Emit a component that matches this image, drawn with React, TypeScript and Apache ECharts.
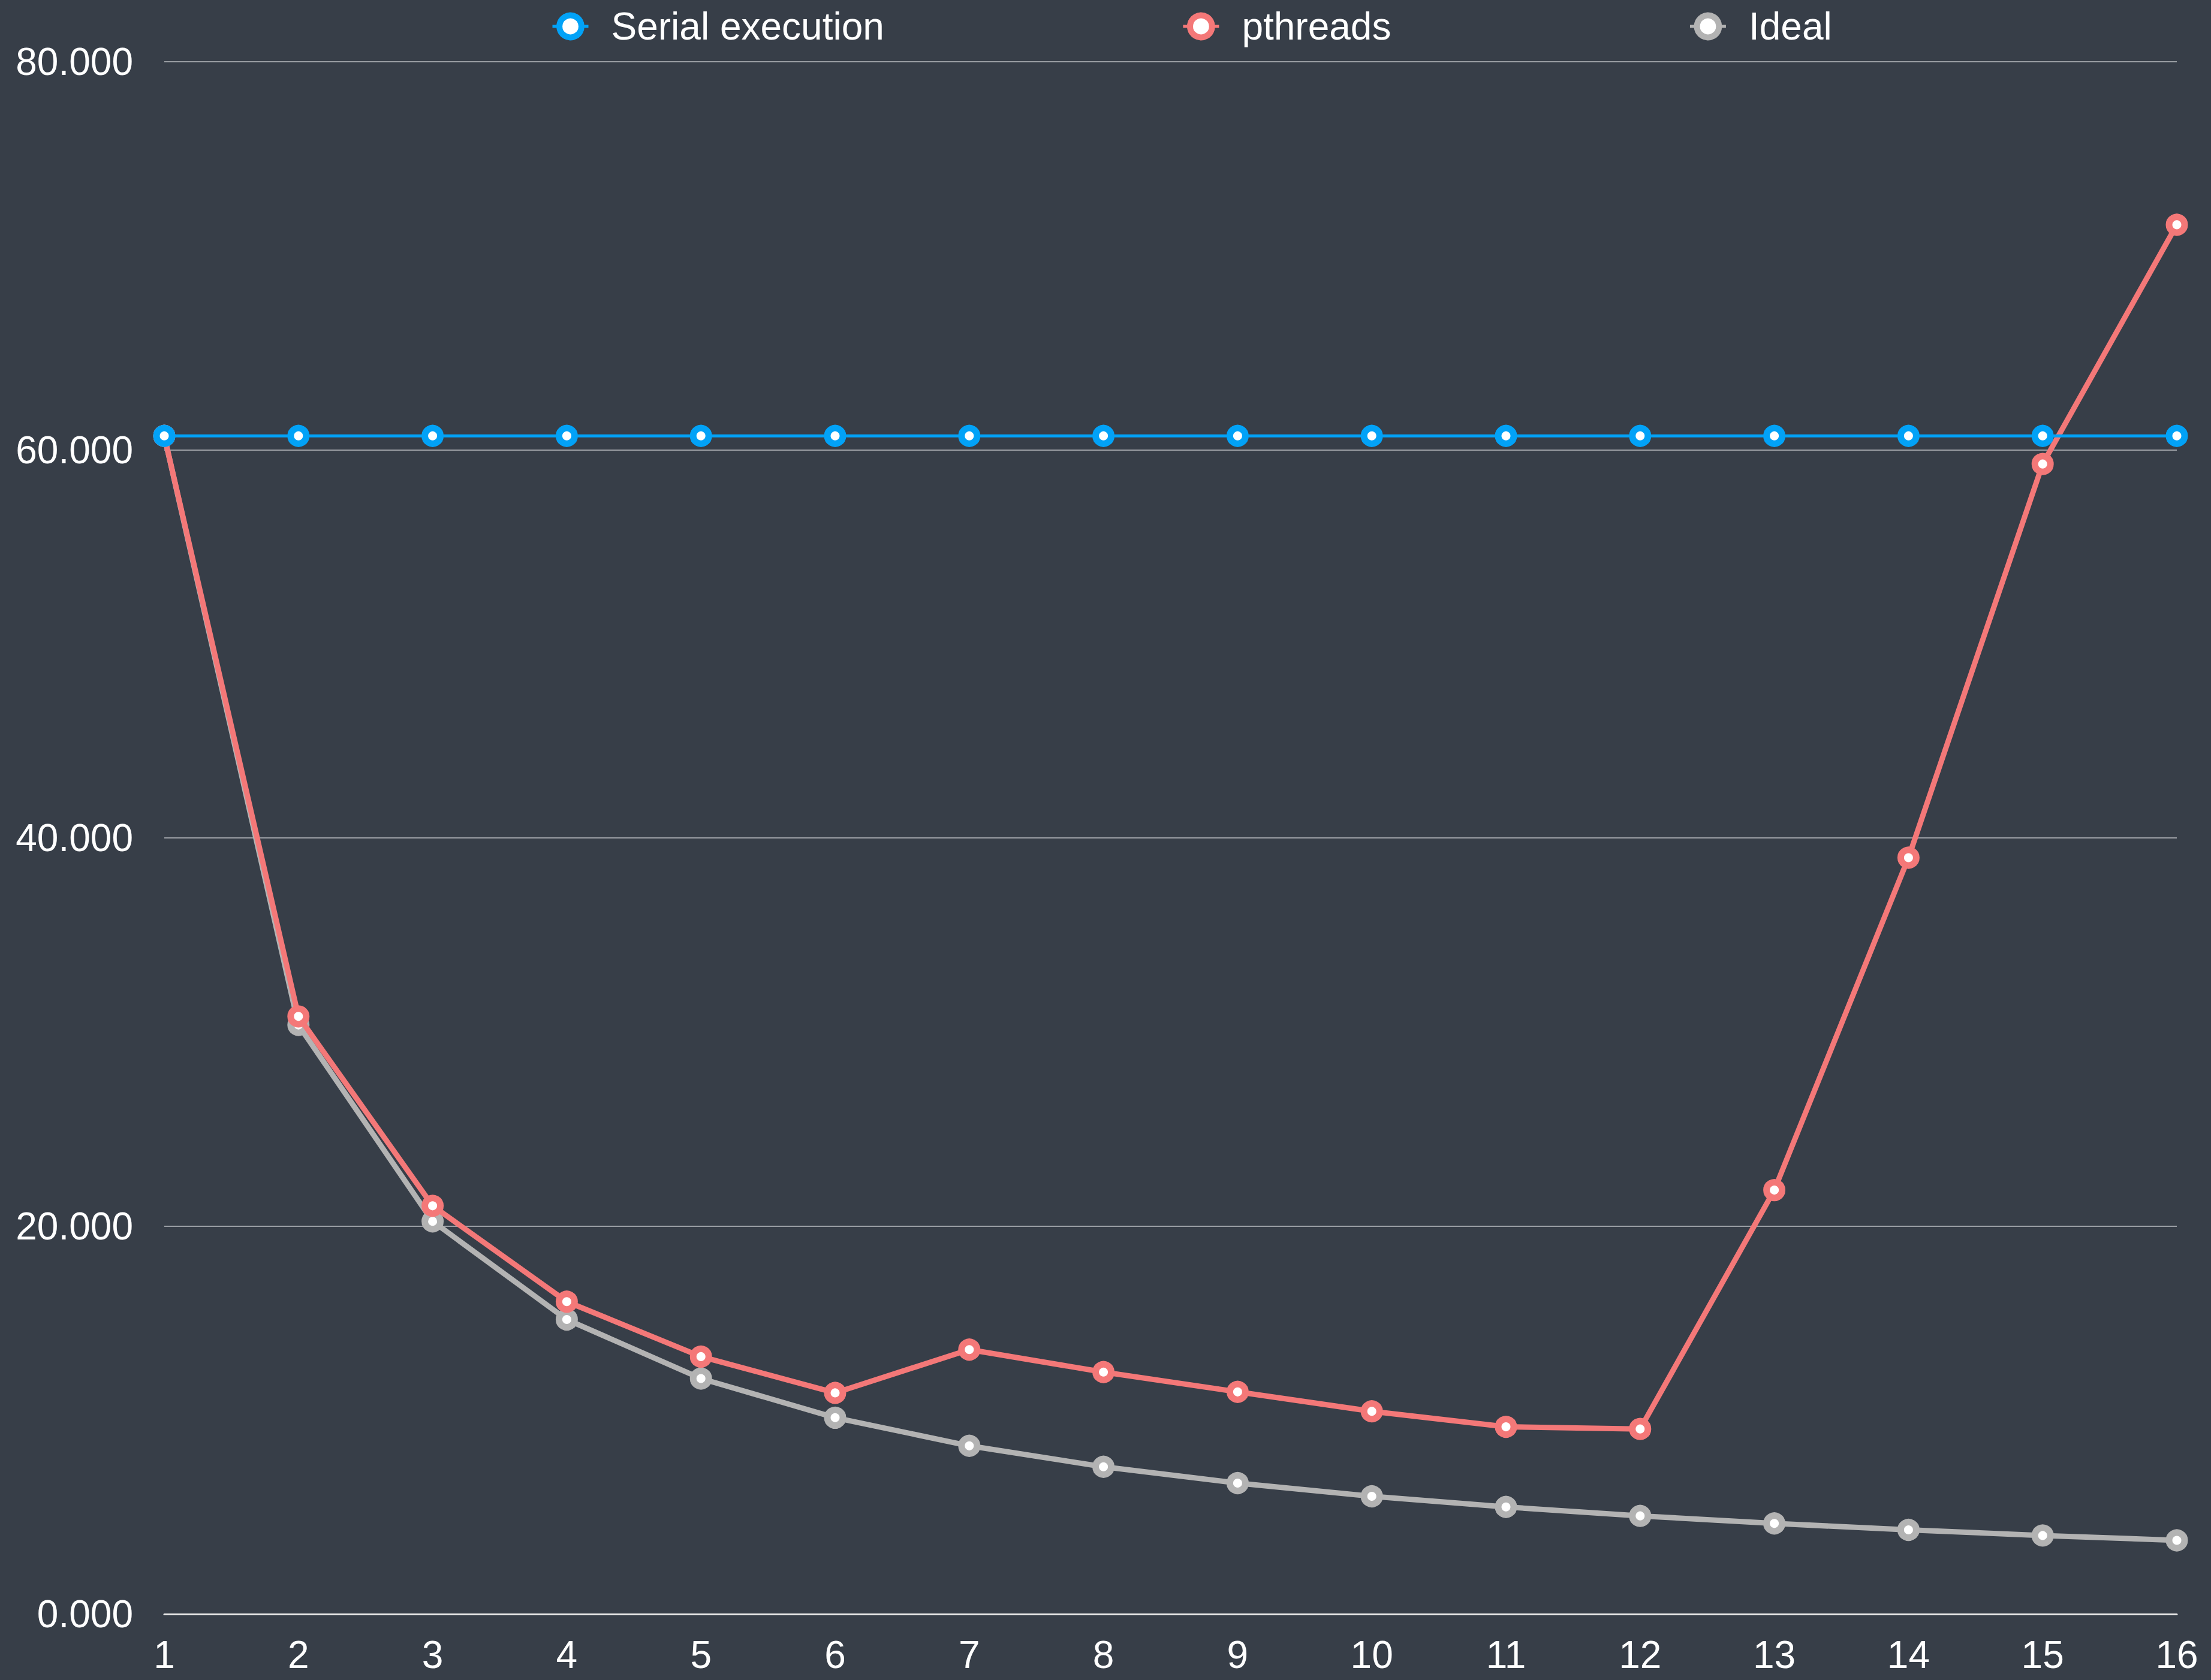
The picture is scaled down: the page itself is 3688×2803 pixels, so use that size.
import React, { useEffect, useRef } from "react";
import * as echarts from "echarts";

const categories = ["1", "2", "3", "4", "5", "6", "7", "8", "9", "10", "11", "12", "13", "14", "15", "16"];
const serialValues = [60.72, 60.72, 60.72, 60.72, 60.72, 60.72, 60.72, 60.72, 60.72, 60.72, 60.72, 60.72, 60.72, 60.72, 60.72, 60.72];
const pthreadsValues = [60.72, 30.8, 21.04, 16.1, 13.27, 11.4, 13.63, 12.47, 11.45, 10.45, 9.65, 9.54, 21.85, 38.98, 59.27, 71.6];
const idealValues = [60.72, 30.36, 20.24, 15.18, 12.14, 10.12, 8.67, 7.59, 6.75, 6.07, 5.52, 5.06, 4.67, 4.34, 4.05, 3.8];
const yTicks = { min: 0, max: 80, interval: 20 };

const BG = "#373e48";
const BLUE = "#02a2f7";
const RED = "#f47878";
const GRAY = "#b3b3b3";
const FONT = "'Liberation Sans', Arial, Helvetica, sans-serif";

function makeSeries(name: string, data: number[], color: string, width: number, z: number) {
  return {
    name,
    type: "line",
    data,
    color,
    z,
    symbol: "circle",
    symbolSize: 26,
    showSymbol: true,
    lineStyle: { color, width },
    itemStyle: { color: "#ffffff", borderColor: color, borderWidth: 11 },
    emphasis: { disabled: true },
  };
}

export default function App() {
  const ref = useRef<HTMLDivElement>(null);
  useEffect(() => {
    if (!ref.current) return;
    const chart = echarts.init(ref.current, null, { renderer: "svg" });
    chart.setOption({
      animation: false,
      backgroundColor: BG,
      textStyle: { fontFamily: FONT },
      legend: {
        top: 7,
        left: 914,
        itemWidth: 60,
        itemHeight: 46,
        itemGap: 496,
        itemStyle: { borderWidth: 10 },
        lineStyle: { width: 5 },
        textStyle: { color: "#ffffff", fontSize: 64, fontFamily: FONT, padding: [0, 0, 0, 33] },
        data: ["Serial execution", "pthreads", "Ideal"],
      },
      grid: { left: 274, right: 57, top: 103, bottom: 110, containLabel: false },
      xAxis: {
        type: "category",
        data: categories,
        boundaryGap: false,
        axisLine: { show: true, lineStyle: { color: "#e6e6e6", width: 3 } },
        axisTick: { show: false },
        axisLabel: { color: "#ffffff", fontSize: 64, fontFamily: FONT, margin: 36, interval: 0 },
        splitLine: { show: false },
      },
      yAxis: {
        type: "value",
        min: yTicks.min,
        max: yTicks.max,
        interval: yTicks.interval,
        axisLine: { show: false },
        axisTick: { show: false },
        axisLabel: {
          color: "#ffffff",
          fontSize: 64,
          fontFamily: FONT,
          margin: 52,
          formatter: (v: number) => v.toFixed(3),
        },
        splitLine: { show: true, lineStyle: { color: "#9a9ea4", width: 2 } },
      },
      series: [
        makeSeries("Serial execution", serialValues, BLUE, 5, 4),
        makeSeries("pthreads", pthreadsValues, RED, 9, 3),
        makeSeries("Ideal", idealValues, GRAY, 9, 2),
      ],
    });
    return () => chart.dispose();
  }, []);
  return (
    <div
      ref={ref}
      style={{ position: "fixed", left: 0, top: 0, width: 3688, height: 2803 }}
    />
  );
}
